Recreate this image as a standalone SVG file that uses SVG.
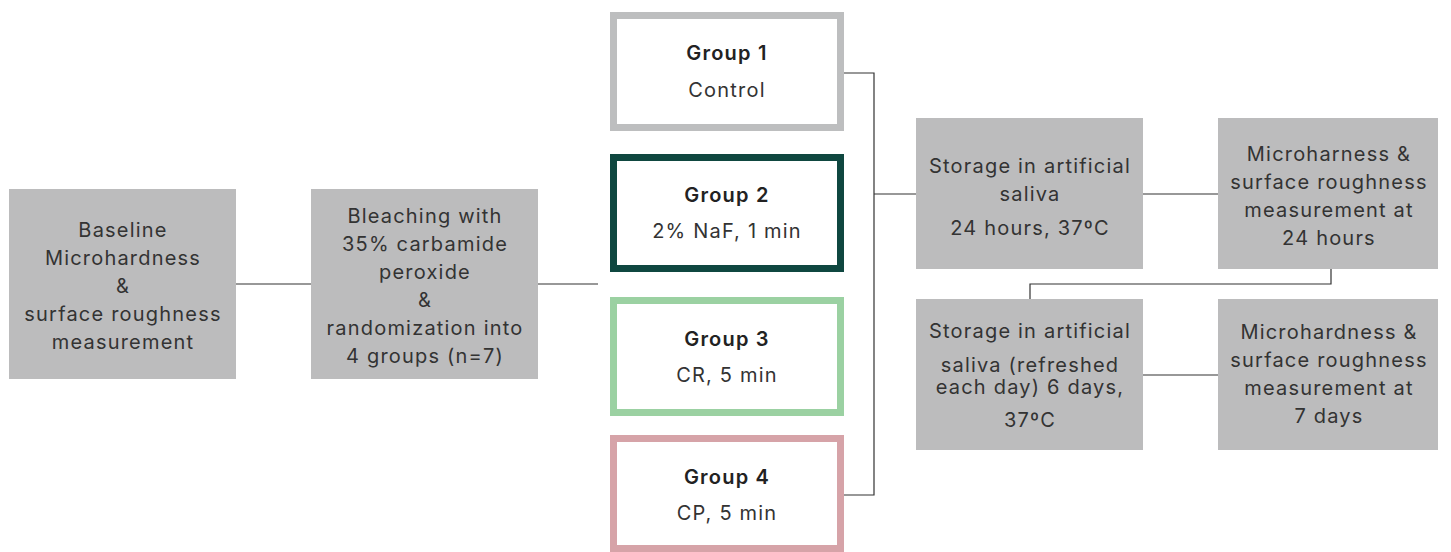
<svg xmlns="http://www.w3.org/2000/svg" width="1451" height="552" viewBox="0 0 1451 552">
<style>
text{font-family:Inter,"Open Sans","Liberation Sans",sans-serif;font-size:20px;letter-spacing:1.2px;fill:#333;text-anchor:middle}
.t{font-weight:600;fill:#222}
.box{fill:#bcbcbd}
.g{fill:#fff;stroke-width:7}
.c{fill:none;stroke:#333;stroke-width:1.2}
</style>
<rect width="1451" height="552" fill="#fff"/>
<g id="connectors">
<path class="c" d="M236 284H311"/>
<path class="c" d="M538 284H598"/>
<path class="c" d="M844 73H874V495H844"/>
<path class="c" d="M874 194H916"/>
<path class="c" d="M1143 194H1218"/>
<path class="c" d="M1331 269V284H1030V299"/>
<path class="c" d="M1143 375H1218"/>
</g>
<g id="baseline">
<rect class="box" x="9" y="189" width="227" height="190"/>
<text x="123" y="237">Baseline</text>
<text x="123" y="265">Microhardness</text>
<text x="123" y="293">&amp;</text>
<text x="123" y="321">surface roughness</text>
<text x="123" y="349">measurement</text>
</g>
<g id="bleaching">
<rect class="box" x="311" y="189" width="227" height="190"/>
<text x="425" y="223">Bleaching with</text>
<text x="425" y="251">35% carbamide</text>
<text x="425" y="279">peroxide</text>
<text x="425" y="307">&amp;</text>
<text x="425" y="335">randomization into</text>
<text x="425" y="363">4 groups (n=7)</text>
</g>
<g id="group1">
<rect class="g" x="613.5" y="15.5" width="227" height="112" stroke="#bdbebf"/>
<text class="t" x="727" y="60">Group 1</text>
<text x="727" y="97">Control</text>
</g>
<g id="group2">
<rect class="g" x="613.5" y="157.5" width="227" height="111" stroke="#0f4740"/>
<text class="t" x="727" y="202">Group 2</text>
<text x="727" y="238">2% NaF, 1 min</text>
</g>
<g id="group3">
<rect class="g" x="613.5" y="300.5" width="227" height="112" stroke="#9bd1a2"/>
<text class="t" x="727" y="346">Group 3</text>
<text x="727" y="382">CR, 5 min</text>
</g>
<g id="group4">
<rect class="g" x="613.5" y="438.5" width="227" height="110" stroke="#d6a3a8"/>
<text class="t" x="727" y="484">Group 4</text>
<text x="727" y="520">CP, 5 min</text>
</g>
<g id="storage1">
<rect class="box" x="916" y="118" width="227" height="151"/>
<text x="1030" y="173">Storage in artificial</text>
<text x="1030" y="201">saliva</text>
<text x="1030" y="235">24 hours, 37ºC</text>
</g>
<g id="measure1">
<rect class="box" x="1218" y="118" width="220" height="151"/>
<text x="1329" y="161">Microharness &amp;</text>
<text x="1329" y="189">surface roughness</text>
<text x="1329" y="217">measurement at</text>
<text x="1329" y="245">24 hours</text>
</g>
<g id="storage2">
<rect class="box" x="916" y="299" width="227" height="151"/>
<text x="1030" y="338">Storage in artificial</text>
<text x="1030" y="372">saliva (refreshed</text>
<text x="1030" y="394">each day) 6 days,</text>
<text x="1030" y="427">37ºC</text>
</g>
<g id="measure2">
<rect class="box" x="1218" y="299" width="220" height="151"/>
<text x="1329" y="339">Microhardness &amp;</text>
<text x="1329" y="367">surface roughness</text>
<text x="1329" y="395">measurement at</text>
<text x="1329" y="423">7 days</text>
</g>
</svg>
